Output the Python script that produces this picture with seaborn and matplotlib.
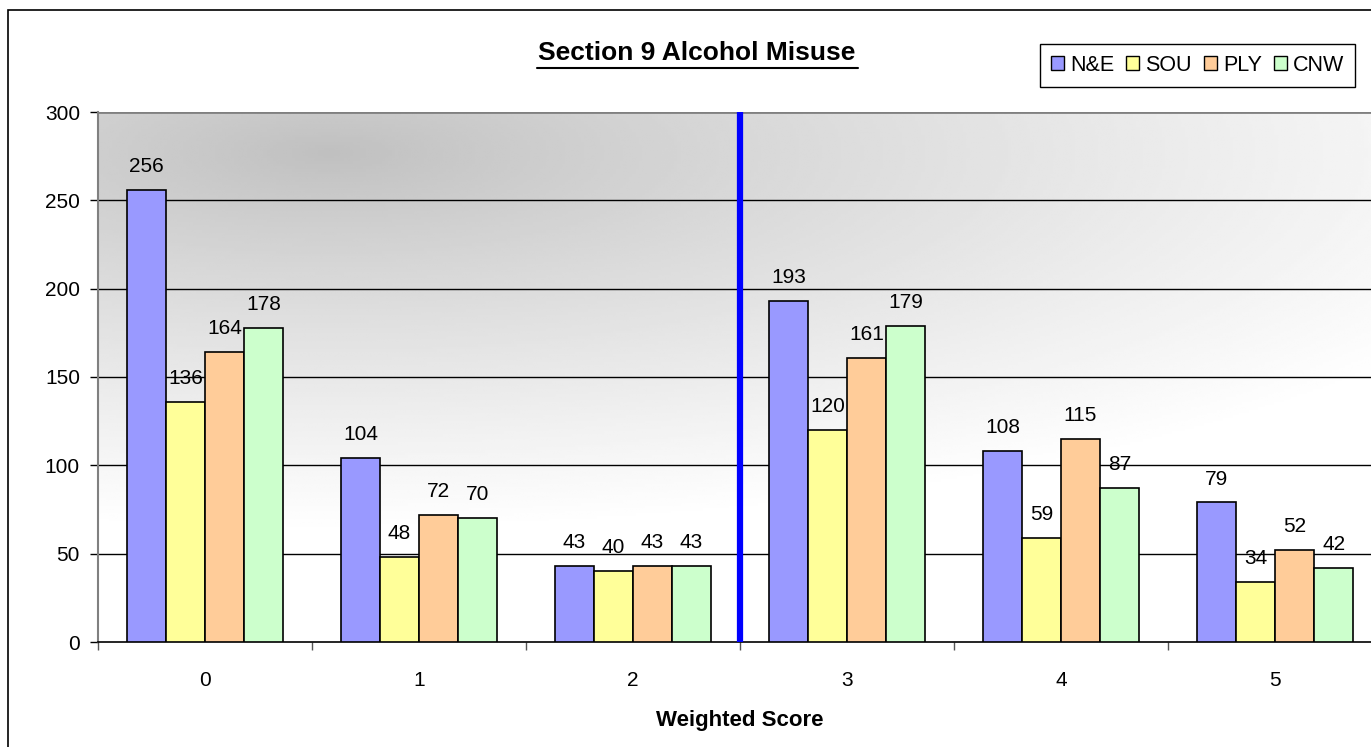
import numpy as np
import pandas as pd
import matplotlib
matplotlib.use("Agg")
import matplotlib.pyplot as plt
import seaborn as sns
from matplotlib.patches import Rectangle

scores = ["0", "1", "2", "3", "4", "5"]
n_e = [256, 104, 43, 193, 108, 79]
sou = [136, 48, 40, 120, 59, 34]
ply = [164, 72, 43, 161, 115, 52]
cnw = [178, 70, 43, 179, 87, 42]
regions = ["N&E", "SOU", "PLY", "CNW"]
colors = ["#9999FF", "#FFFF99", "#FFCC99", "#CCFFCC"]

df = pd.DataFrame({
    "score": scores * 4,
    "region": sum([[r] * len(scores) for r in regions], []),
    "count": n_e + sou + ply + cnw,
})

sns.set_theme(style="white")
plt.rcParams["font.family"] = ["Liberation Sans", "DejaVu Sans"]
plt.rcParams["text.color"] = "black"
plt.rcParams["axes.labelcolor"] = "black"
plt.rcParams["xtick.color"] = "black"
plt.rcParams["ytick.color"] = "black"

FS = 15

fig = plt.figure(figsize=(13.71, 7.47), dpi=100)
ax = fig.add_axes([98 / 1371, 1 - 642 / 747, 1284 / 1371, 530 / 747])

# shaded background: dark near the top-left, fading to white
W, H = 400, 200
xs = np.linspace(0, 1284, W)
ys = np.linspace(0, 530, H)
X, Y = np.meshgrid(xs, ys)
d = np.sqrt(((X - 230) / 1300) ** 2 + ((Y - 40) / 380) ** 2)
val = 0.75 + 0.25 * np.clip(d, 0, 1) ** 0.85
ax.imshow(val, cmap="gray", vmin=0, vmax=1, extent=[0, 1, 0, 1], origin="upper",
          transform=ax.transAxes, aspect="auto", zorder=0, interpolation="bilinear")

sns.barplot(data=df, x="score", y="count", hue="region", palette=colors,
            width=0.73, edgecolor="black", linewidth=1.2, saturation=1,
            ax=ax, zorder=3, legend=True)

ax.set_ylim(0, 300)
ax.set_xlim(-0.5, 5.5)

for cont in ax.containers:
    ax.bar_label(cont, padding=10, fontsize=FS, color="black")

ax.set_yticks(np.arange(0, 301, 50))
for yv in range(50, 300, 50):
    ax.axhline(yv, color="black", lw=1, zorder=1)
ax.axhline(300, color="#808080", lw=2, zorder=1)

ax.axvline(2.5, color="#0000FF", lw=4.5, zorder=4)

ax.set_xticks(range(6))
ax.set_xticks(np.arange(-0.5, 6, 1), minor=True)
ax.tick_params(axis="x", which="major", length=0, labelsize=FS, pad=21, labelcolor="black")
ax.tick_params(axis="x", which="minor", length=6, width=1, color="#555555", direction="out", bottom=True)
ax.tick_params(axis="y", length=6, width=1, color="black", direction="out", left=True,
               labelsize=FS, pad=7, labelcolor="black")

for s in ["top", "right"]:
    ax.spines[s].set_visible(False)
ax.spines["left"].set_color("#808080")
ax.spines["left"].set_linewidth(1.5)
ax.spines["bottom"].set_color("black")
ax.spines["bottom"].set_linewidth(1.2)

ax.set_ylabel("")
ax.set_xlabel("Weighted Score", fontsize=16, fontweight="bold", labelpad=14, color="black")

fig.text(697 / 1371, 1 - 53 / 747, "Section 9 Alcohol Misuse", ha="center", va="center",
         fontsize=19, fontweight="bold", color="black")
fig.add_artist(plt.Line2D([537 / 1371, 858 / 1371], [1 - 68 / 747, 1 - 68 / 747],
                          color="black", lw=1.5))

leg = ax.legend(loc="upper left", bbox_to_anchor=(1040 / 1371, 1 - 44 / 747),
                bbox_transform=fig.transFigure, ncol=4, frameon=True, fontsize=15.5,
                handlelength=0.6, handleheight=0.6, handletextpad=0.3, columnspacing=0.55,
                borderpad=0.5, borderaxespad=0, fancybox=False, edgecolor="black", framealpha=1)
leg.get_frame().set_linewidth(1)
for t in leg.get_texts():
    t.set_color("black")
for h in leg.legend_handles:
    h.set_edgecolor("black")
    h.set_linewidth(1)

fig.add_artist(Rectangle((8 / 1371, -0.05), 1.2, 1 - 10 / 747 + 0.05, transform=fig.transFigure,
                         fill=False, edgecolor="black", lw=1.2))

fig.savefig("out.png", dpi=100)
